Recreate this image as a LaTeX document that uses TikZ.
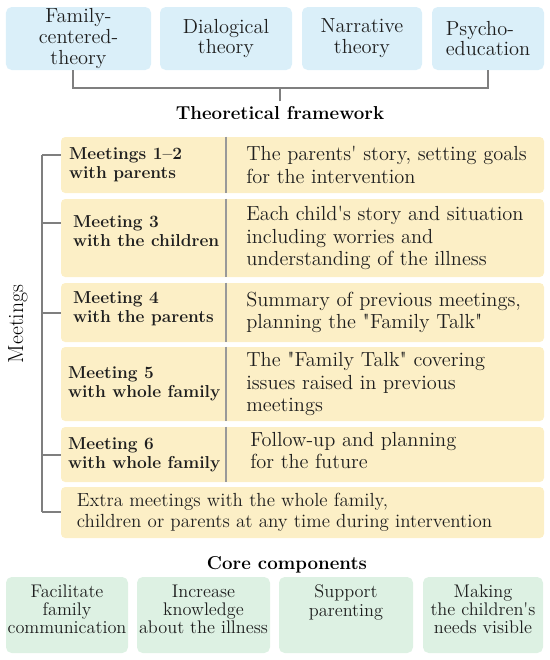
\documentclass[tikz,border=0pt]{standalone}
\usetikzlibrary{calc, positioning}
\definecolor{theoblue}{HTML}{DAEFF9}
\definecolor{meetyel}{HTML}{FCEFC6}
\definecolor{coregreen}{HTML}{DDF1E3}
\definecolor{brkgray}{HTML}{7F7F7F}
\definecolor{txtdark}{HTML}{1E1E1E}
\tikzset{
  % scatola di una teoria
  theobox/.style={fill=theoblue, rounded corners=4pt, align=center, inner sep=0pt,
    minimum height=1.575cm, font=\fontsize{14.5}{14.8}\selectfont, text=txtdark},
  % riga di un incontro
  meetrow/.style={fill=meetyel, rounded corners=3pt, minimum width=12.075cm, inner sep=0pt},
  meetlbl/.style={anchor=west, inner sep=0pt, align=left,
    font=\fontsize{12.3}{13.8}\selectfont\bfseries, text=txtdark},
  meettxt/.style={anchor=west, inner sep=0pt, align=left,
    font=\fontsize{14.5}{15.8}\selectfont, text=txtdark},
  % componenti principali
  corebox/.style={fill=coregreen, rounded corners=4pt, minimum height=1.9cm, inner sep=0pt},
  coretxt/.style={anchor=north, inner sep=0pt, align=center,
    font=\fontsize{13}{12.9}\selectfont, text=txtdark},
  % titoli di sezione
  heading/.style={font=\fontsize{13.3}{15}\selectfont\bfseries, text=black},
  % linee grigie
  brk/.style={draw=brkgray, line width=1.1pt},
  divider/.style={draw=brkgray!80, line width=1pt},
}

\begin{document}
\begin{tikzpicture}
  \useasboundingbox (0,0) rectangle (13.75,-16.5);
  % teorie
  \node[theobox, minimum width=3.625cm] (fam) at (1.9625,-0.9625) {Family-\\centered-\\theory};
  \node[theobox, minimum width=3.3cm] (dia) at (5.65,-0.9625) {Dialogical\\theory};
  \node[theobox, minimum width=3.0cm] (nar) at (9.05,-0.9625) {Narrative\\theory};
  \node[theobox, minimum width=2.8cm, align=left] (psy) at (12.2,-0.9625) {Psycho-\\education};
  \coordinate (bar) at (0,-2.2);
  \node[heading] (tf) at (7.0,-2.825) {Theoretical framework};
  \draw[brk] ([xshift=-0.14cm]fam.south) |- (psy.south |- bar) -- (psy.south);
  \draw[brk] (tf.north) -- (tf.north |- bar);

  % incontri
  \foreach \n/\c/\h in {1/4.125/1.4, 2/5.95/1.95, 3/7.8125/1.475, 4/9.6/1.85,
    5/11.3625/1.375, 6/12.8125/1.275}
    \node[meetrow, minimum height=\h cm] (row\n) at (7.5625,-\c) {};
  \coordinate (div) at (5.65,0);
  \foreach \n in {1,...,5} \draw[divider] (div |- row\n.north) -- (div |- row\n.south);

  \node[meetlbl] (l1) at ([xshift=0.2cm]row1.west) {Meetings 1--2\\with parents};
  \node[meetlbl] (l2) at ([xshift=0.3cm, yshift=0.175cm]row2.west) {Meeting 3\\with the children};
  \node[meetlbl] (l3) at ([xshift=0.3cm, yshift=0.1cm]row3.west) {Meeting 4\\with the parents};
  \node[meetlbl] (l4) at ([xshift=0.175cm]row4.west) {Meeting 5\\with whole family};
  \node[meetlbl] (l5) at ([xshift=0.175cm]row5.west) {Meeting 6\\with whole family};

  \node[meettxt] (d1) at ([xshift=0.5cm]div |- row1) {The parents\textquotesingle{} story, setting goals\\for the intervention};
  \node[meettxt] (d2) at ([xshift=0.5cm]div |- row2) {Each child\textquotesingle{}s story and situation\\including worries and\\understanding of the illness};
  \node[meettxt] (d3) at ([xshift=0.5cm]div |- row3) {Summary of previous meetings,\\planning the \textquotedbl{}Family Talk\textquotedbl};
  \node[meettxt] (d4) at ([xshift=0.5cm]div |- row4) {The \textquotedbl{}Family Talk\textquotedbl{} covering\\issues raised in previous\\meetings};
  \node[meettxt] (d5) at ([xshift=0.6cm, yshift=0.1cm]div |- row5) {Follow-up and planning\\for the future};
  \node[meettxt, font=\fontsize{13.5}{15}\selectfont] (d6) at ([xshift=0.4cm]row6.west)
    {Extra meetings with the whole family,\\children or parents at any time during intervention};

  % parentesi a sinistra
  \foreach \n/\y in {1/3.875, 2/5.575, 3/7.825, 5/11.375, 6/12.8} {
    \coordinate (sp\n) at (1.05,-\y);
    \draw[brk] (sp\n) -- (sp\n -| row\n.west);
  }
  \draw[brk] (sp1) -- (sp6);
  \node[rotate=90, font=\fontsize{15.5}{17}\selectfont] (mt) at (0.45,-8.1) {Meetings};

  % componenti principali
  \node[heading] (cc) at (7.175,-14.125) {Core components};
  \foreach \n/\x/\w in {1/1.675/3.05, 2/5.0875/3.325, 3/8.65/3.35, 4/12.075/3.0}
    \node[corebox, minimum width=\w cm] (core\n) at (\x,-15.375) {};
  \node[coretxt] (ct1) at ([yshift=-0.2cm]core1.north) {Facilitate\\family\\communication};
  \node[coretxt] (ct2) at ([yshift=-0.2cm]core2.north) {Increase\\knowledge\\about the illness};
  \node[coretxt] (ct3) at ([yshift=-0.2cm]core3.north) {Support\\parenting};
  \node[coretxt] (ct4) at ([yshift=-0.2cm]core4.north) {Making\\the children\textquotesingle{}s\\needs visible};
\end{tikzpicture}
\end{document}
